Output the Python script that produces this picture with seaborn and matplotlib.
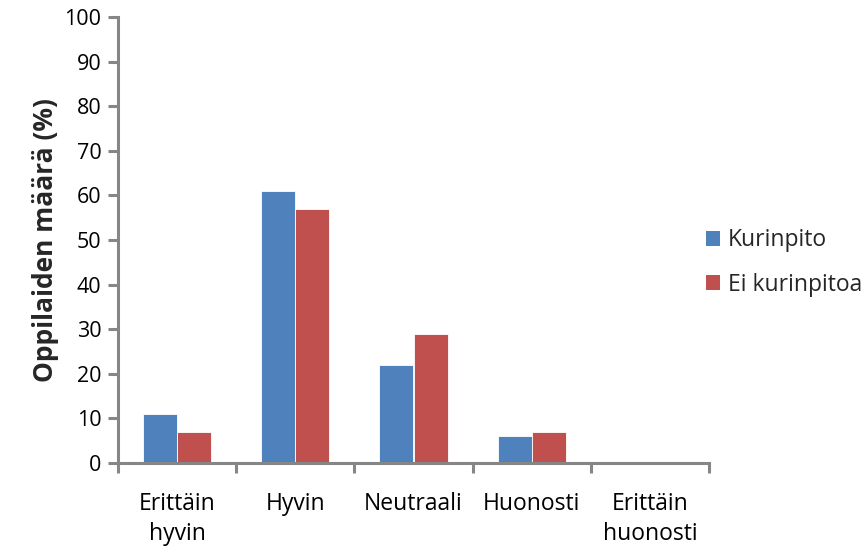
import matplotlib
matplotlib.use("Agg")
import matplotlib.pyplot as plt
import seaborn as sns
import pandas as pd
from matplotlib.patches import Patch

categories = ["Erittäin\nhyvin", "Hyvin", "Neutraali", "Huonosti", "Erittäin\nhuonosti"]
series_names = ["Kurinpito", "Ei kurinpitoa"]
kurinpito = [11, 61, 22, 6, 0]
ei_kurinpitoa = [7, 57, 29, 7, 0]
y_ticks = [0, 10, 20, 30, 40, 50, 60, 70, 80, 90, 100]
colors = ["#4F81BD", "#C0504D"]

df = pd.DataFrame({
    "Luokka": categories * 2,
    "Sarja": [series_names[0]] * len(categories) + [series_names[1]] * len(categories),
    "Arvo": kurinpito + ei_kurinpitoa,
})

sns.set_theme(style="white")
plt.rcParams["font.family"] = ["Open Sans", "DejaVu Sans"]

fig = plt.figure(figsize=(8.68, 5.49), dpi=100)
ax = fig.add_axes([118 / 868, 1 - 463 / 549, (709 - 118) / 868, (463 - 17) / 549])

sns.barplot(data=df, x="Luokka", y="Arvo", hue="Sarja", order=categories,
            hue_order=series_names, palette=colors, width=0.576, saturation=1,
            edgecolor="white", linewidth=0.6, ax=ax, legend=False)

axis_gray = "#868686"
ax.set_xlim(-0.5, len(categories) - 0.5)
ax.set_ylim(0, 100)
ax.set_yticks(y_ticks)
ax.set_yticklabels([str(v) for v in y_ticks], fontsize=15.5, color="black")
for side in ["top", "right"]:
    ax.spines[side].set_visible(False)
for side in ["left", "bottom"]:
    ax.spines[side].set_color(axis_gray)
    ax.spines[side].set_linewidth(2.2)
ax.tick_params(axis="y", direction="out", length=7, width=2.2, color=axis_gray,
               left=True, pad=5)

# category labels centred, tick marks on category boundaries
ax.set_xticks(range(len(categories)))
ax.set_xticklabels(categories, fontsize=16.5, color="black", linespacing=1.3)
ax.tick_params(axis="x", which="major", length=0, pad=21)
ax.set_xticks([i - 0.5 for i in range(len(categories) + 1)], minor=True)
ax.tick_params(axis="x", which="minor", direction="out", length=7, width=2.2,
               color=axis_gray, bottom=True)

ax.set_xlabel("")
ax.set_ylabel("Oppilaiden määrä (%)", fontsize=19, fontweight="bold", labelpad=4)

handles = [Patch(facecolor=c, edgecolor="none") for c in colors]
fig.legend(handles, series_names, loc="center left", bbox_to_anchor=(706 / 868, 0.522),
           frameon=False, fontsize=16.5, handlelength=0.61, handleheight=0.61,
           handletextpad=0.35, labelspacing=0.88, borderpad=0, borderaxespad=0)

fig.savefig("out.png", dpi=100, facecolor="white")
